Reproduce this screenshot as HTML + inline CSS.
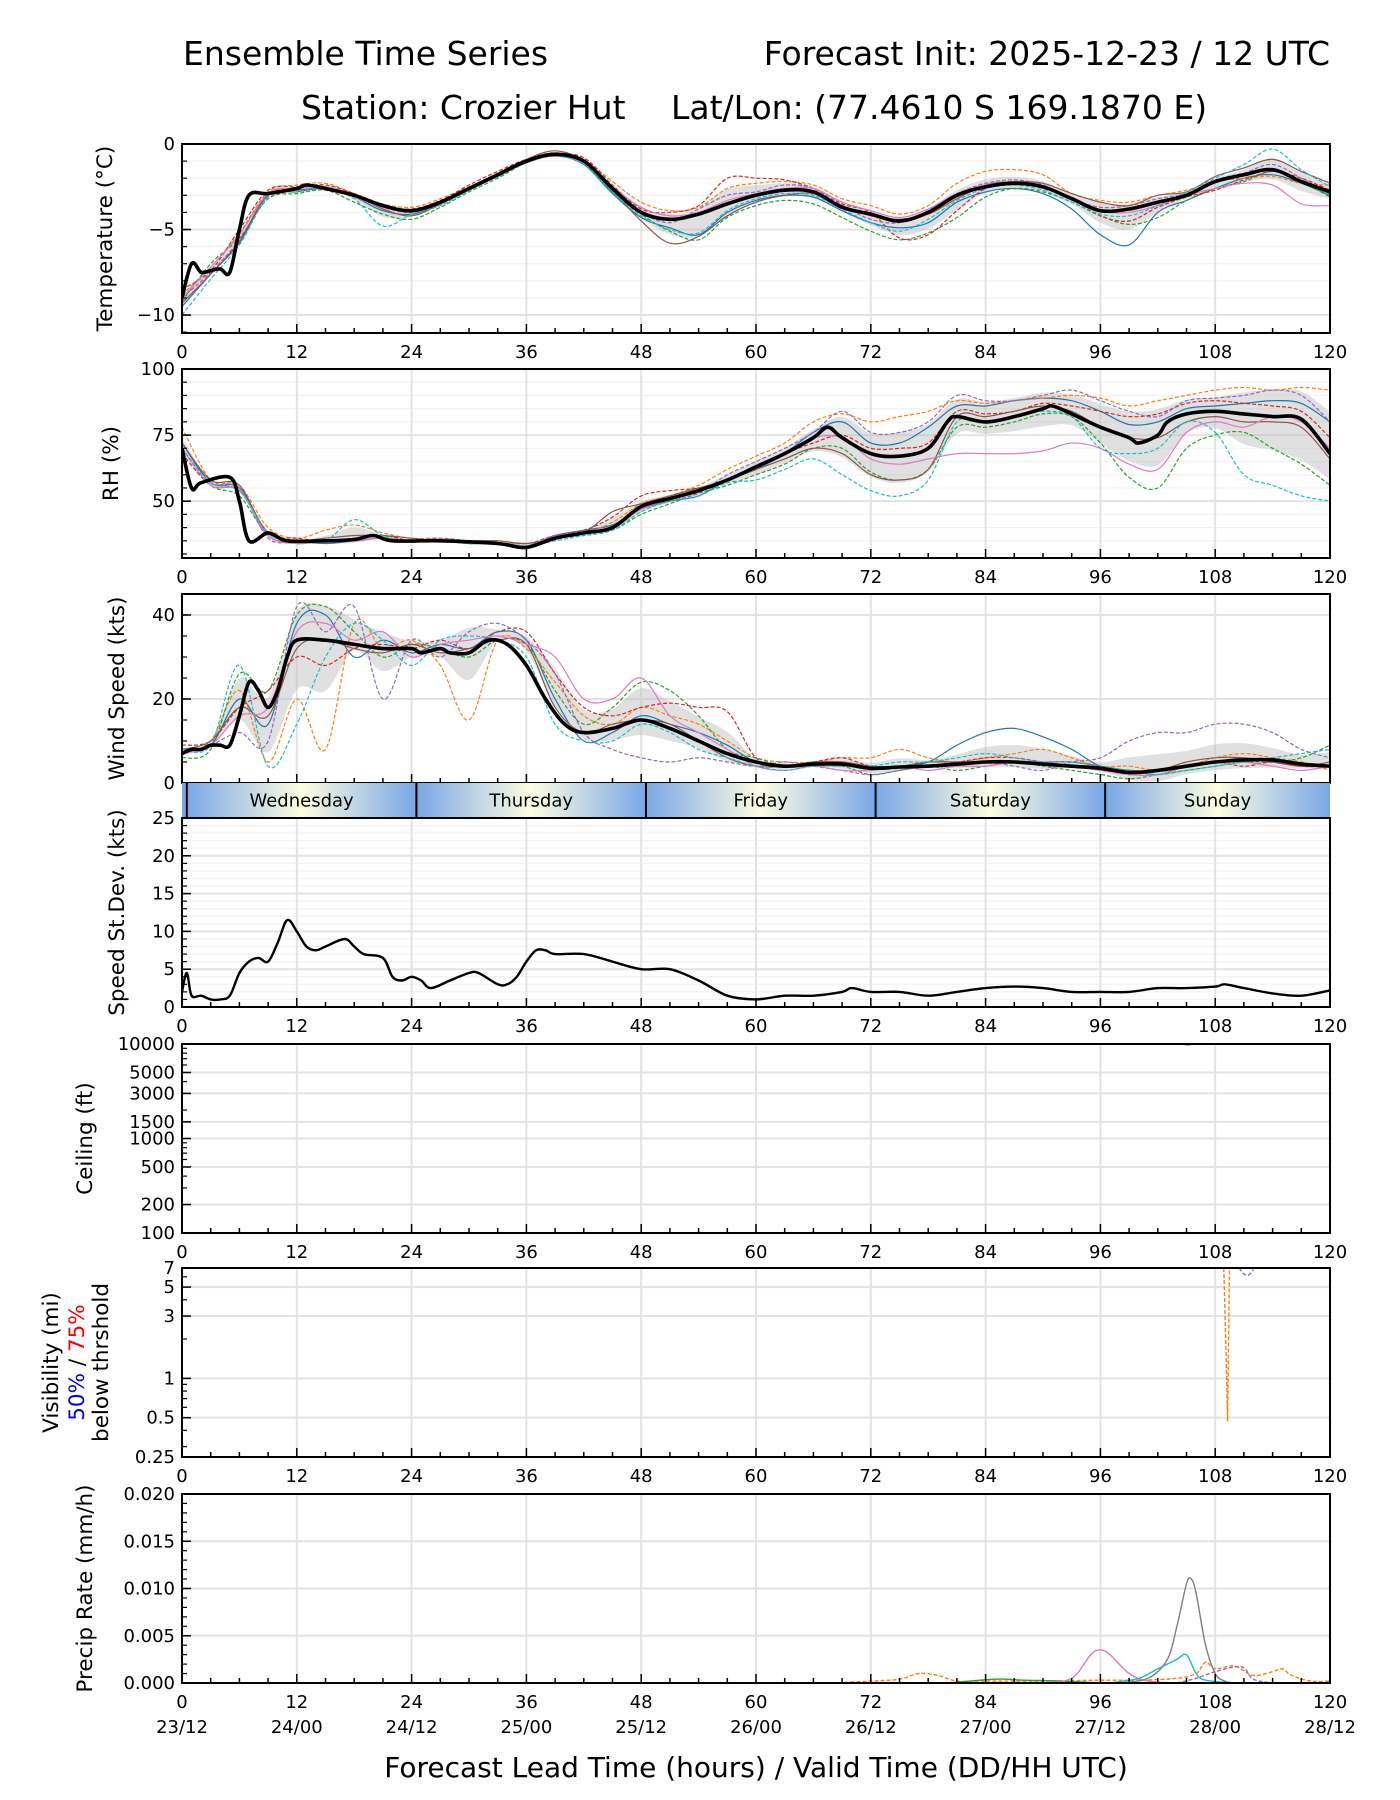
<!DOCTYPE html>
<html><head><meta charset="utf-8"><style>
html,body{margin:0;padding:0;background:#fff}
svg{display:block;font-family:"DejaVu Sans","Liberation Sans",sans-serif}
</style></head><body>
<svg id="chart" width="1400" height="1800" viewBox="0 0 1400 1800" xmlns="http://www.w3.org/2000/svg">
<defs>
<linearGradient id="dayGrad" x1="0" x2="1" y1="0" y2="0">
<stop offset="0" stop-color="#7aa6e6"/><stop offset="0.5" stop-color="#fdfde2"/><stop offset="1" stop-color="#7aa6e6"/>
</linearGradient>
</defs>
<text x="183" y="65" font-size="33">Ensemble Time Series</text>
<text x="1330" y="65" font-size="33" text-anchor="end">Forecast Init: 2025-12-23 / 12 UTC</text>
<text x="301" y="119" font-size="33">Station: Crozier Hut</text>
<text x="671" y="119" font-size="33">Lat/Lon: (77.4610 S 169.1870 E)</text>
</svg>
<script>
// ===== data =====
const T = [0,3,6,9,12,15,18,21,24,27,30,33,36,39,42,45,48,51,54,57,60,63,66,69,72,75,78,81,84,87,90,93,96,99,102,105,108,111,114,117,120];
const memberColors = ["#1f77b4","#ff7f0e","#2ca02c","#d62728","#9467bd","#8c564b","#e377c2","#17becf"];
const memberDash = [false,true,true,true,true,false,false,true];
const tempMembers = [
[-9.5,-7.6,-5.8,-3.0,-2.8,-2.6,-3.1,-3.9,-4.1,-3.5,-2.7,-1.9,-1.1,-0.7,-1.2,-2.9,-4.3,-4.9,-5.3,-4.0,-3.3,-3.0,-3.1,-3.9,-4.6,-4.9,-4.6,-3.4,-2.8,-2.6,-2.9,-3.8,-5.3,-5.9,-4.0,-3.3,-2.6,-2.0,-1.8,-2.3,-3.0],
[-8.8,-7.2,-5.2,-2.8,-2.4,-2.3,-2.9,-3.5,-3.7,-3.2,-2.5,-1.7,-0.9,-0.5,-0.9,-2.2,-3.4,-3.9,-3.7,-2.6,-2.3,-2.2,-2.4,-3.2,-3.6,-4.1,-3.6,-2.3,-1.6,-1.5,-1.8,-2.9,-3.3,-3.4,-3.0,-2.7,-2.2,-2.0,-1.9,-2.3,-2.4],
[-9.2,-7.0,-5.5,-3.2,-2.9,-2.7,-3.4,-4.1,-4.4,-3.7,-2.8,-2.0,-1.1,-0.7,-1.1,-2.8,-4.1,-5.1,-5.6,-4.3,-3.6,-3.3,-3.5,-4.3,-5.1,-5.6,-5.2,-4.3,-3.1,-2.6,-2.8,-3.4,-4.2,-4.7,-4.3,-3.3,-2.6,-2.2,-1.6,-2.2,-3.1],
[-8.5,-7.4,-5.0,-2.7,-2.5,-2.4,-2.9,-3.6,-3.8,-3.3,-2.4,-1.6,-0.9,-0.6,-0.8,-2.4,-3.8,-4.0,-3.6,-2.0,-2.0,-2.1,-2.6,-3.5,-4.0,-5.5,-5.3,-3.9,-2.6,-2.2,-2.6,-3.2,-4.2,-4.5,-3.7,-3.1,-2.7,-2.1,-1.6,-2.0,-2.7],
[-9.0,-7.5,-5.6,-3.0,-2.6,-2.5,-3.0,-3.7,-4.0,-3.5,-2.7,-1.8,-1.0,-0.6,-1.0,-2.6,-4.0,-4.6,-3.8,-3.0,-2.8,-2.4,-2.6,-3.6,-4.4,-4.6,-3.9,-2.9,-2.3,-2.1,-2.4,-3.2,-3.7,-3.6,-3.2,-2.9,-2.1,-1.7,-1.2,-2.0,-2.9],
[-9.3,-7.6,-5.7,-2.9,-2.7,-2.6,-3.0,-3.8,-4.2,-3.5,-2.6,-1.8,-0.9,-0.4,-1.0,-2.7,-4.5,-5.8,-5.4,-4.2,-3.4,-3.0,-2.9,-3.6,-4.2,-4.4,-4.1,-3.2,-2.4,-2.2,-2.3,-2.9,-3.4,-3.6,-3.0,-2.8,-1.9,-1.4,-0.9,-1.6,-2.3],
[-9.0,-7.2,-5.3,-2.9,-2.6,-2.5,-3.1,-3.7,-3.9,-3.4,-2.6,-1.8,-1.0,-0.7,-1.1,-2.5,-3.7,-4.2,-4.0,-3.3,-2.9,-2.6,-2.6,-3.4,-3.9,-4.3,-3.8,-2.9,-2.4,-2.3,-2.5,-3.1,-3.9,-4.0,-3.6,-3.0,-2.6,-2.3,-2.4,-3.5,-3.6],
[-10,-7.9,-5.9,-3.1,-2.8,-2.6,-3.2,-4.8,-4.1,-3.6,-2.7,-1.9,-1.0,-0.7,-1.2,-2.8,-4.2,-5.0,-5.2,-3.9,-3.2,-2.9,-3.0,-3.8,-4.6,-5.1,-4.4,-3.3,-2.6,-2.4,-2.7,-3.4,-4.1,-4.2,-3.6,-2.8,-2.0,-1.2,-0.3,-1.5,-2.5]];
const tempMeanT = [0,1,2,3,4,5,6,7,9,12,13,15,18,21,24,27,30,33,36,39,42,45,48,51,54,57,60,63,66,69,72,75,78,81,84,87,90,93,96,99,102,105,108,111,114,117,120];
const tempMean  = [-9,-7,-7.5,-7.4,-7.3,-7.5,-5,-3,-2.9,-2.6,-2.4,-2.6,-3,-3.6,-3.9,-3.4,-2.6,-1.8,-1,-0.6,-1,-2.6,-4,-4.4,-4.1,-3.5,-3,-2.7,-2.8,-3.7,-4.1,-4.5,-4,-3,-2.5,-2.3,-2.5,-3.2,-3.9,-3.8,-3.4,-3,-2.2,-1.8,-1.5,-2.2,-2.8];
const rhMembers = [
[72,57,55,38,35,34,35,36,35,35,34,34,33,37,39,41,47,50,52,58,62,68,76,80,72,72,78,86,86,88,89,88,84,79,80,85,86,87,88,87,80],
[78,58,56,40,36,39,41,38,36,36,35,34,34,36,38,42,49,52,56,62,67,72,80,83,80,82,84,88,87,88,89,90,89,86,88,90,92,93,92,93,92],
[70,56,52,37,34,35,35,36,35,35,34,34,33,36,37,39,45,49,53,56,60,64,70,70,61,58,62,78,78,80,83,82,72,59,55,70,75,76,70,64,56],
[68,56,54,38,36,35,36,37,35,35,35,34,33,37,39,44,52,54,55,58,63,68,72,75,70,70,72,84,83,84,87,86,84,82,83,87,88,87,86,84,74],
[70,57,55,36,35,35,35,36,35,36,35,35,34,37,38,40,47,50,53,60,65,70,76,84,76,76,80,90,88,88,90,92,88,84,82,88,89,90,92,90,80],
[72,58,56,37,35,36,37,37,36,35,35,35,34,36,38,46,49,52,55,58,62,66,70,68,60,58,62,82,82,84,86,84,78,74,74,80,82,80,80,78,66],
[70,56,54,37,34,35,35,36,35,35,35,34,33,36,38,40,47,51,54,58,63,68,74,74,66,64,66,68,68,68,69,72,70,64,62,76,80,78,82,80,70],
[70,57,54,38,35,35,43,37,35,35,34,34,33,35,37,39,46,50,52,57,58,62,66,60,54,52,58,80,80,82,84,82,70,68,70,80,76,60,56,52,50]];
const rhMeanT = [0,1,2,5,6,7,9,11,15,18,20,22,27,33,36,39,42,45,48,51,54,57,60,63,66,67.5,69,72,75,78,80,81,84,87,90,91,93,96,99,100,102,103,105,108,111,114,117,120];
const rhMean  = [70,55,57,59,50,35,38,35,35,35.5,37,35,35,34,32.5,36,38,40,48,51,54,58,63,68,74,78,74,68,67,70,80,82,80,82,85,86,83,78,74,72,75,80,83,84,83,82,81,68];
const windMembers = [
[8,9,20,14,38,40,30,34,31,33,32,36,34,20,10,12,16,14,12,9,5,4,5,5,4,4,5,9,12,13,11,8,4,3,2,4,5,6,5,4,4],
[7,10,22,5,20,8,38,32,34,28,15,34,32,24,16,14,18,16,14,10,6,5,5,6,6,8,6,5,6,7,8,6,4,4,3,4,6,7,6,5,3],
[6,8,26,22,40,42,36,30,33,32,30,34,33,22,14,18,24,22,16,8,6,4,4,4,2,3,4,3,4,5,4,3,2,1,2,3,4,5,5,6,9],
[9,10,18,22,30,28,32,33,32,34,32,36,36,26,18,16,18,19,18,17,6,4,5,6,4,4,5,5,6,6,5,4,4,2,3,4,5,4,5,4,4],
[7,9,12,10,42,36,42,20,34,30,36,38,34,26,12,8,6,5,6,5,4,5,4,3,2,3,4,4,5,4,3,5,6,10,12,12,14,14,12,8,6],
[8,10,18,16,32,34,32,31,33,31,32,34,33,18,12,14,15,14,10,6,4,4,5,5,4,4,5,5,5,5,5,5,4,3,3,5,6,6,5,4,5],
[7,9,16,18,36,38,34,36,30,33,34,35,33,30,20,20,25,16,12,8,4,3,4,3,3,4,3,4,4,5,5,4,3,2,2,4,5,5,4,3,4],
[8,9,28,4,14,30,38,34,28,34,35,34,30,14,10,10,14,12,8,6,4,3,4,4,4,5,5,6,7,6,5,5,4,3,2,3,4,5,6,7,8]];
const windMeanT = [0,1,2,3,4,5,6,7,8,9,10,11,12,15,18,21,24,25,27,28,30,32,34,36,38,40,42,45,48,51,54,57,60,63,66,69,72,75,78,81,84,87,90,93,96,99,102,105,108,111,114,117,120];
const windMean  = [7,8,8,9,9,9,16,24,22,18,22,30,34,34,33,32,32,31,32,31,31,34,33,28,20,14,12,13,15,13,10,7,5,4,4.5,4.5,3.5,3.8,4,4.5,5,5,4.5,4,3.5,2.5,3,4,5,5.5,5.5,4.5,4];
const sdT = [0,0.5,1,2,3,4,5,6,7,8,9,10,11,12,13,14,15,17,18,19,21,22,23,24,25,26,28,30,31,33,34,35,36,37,38,39,42,45,48,51,54,57,60,63,66,69,70,72,75,78,81,84,87,90,93,96,99,102,105,108,109,111,114,117,120];
const sdVal = [2,4.5,1.5,1.5,1,1,1.5,4.5,6,6.5,6,8.5,11.5,10,8,7.5,8,9,8,7,6.5,4,3.5,4,3.5,2.5,3.5,4.5,4.5,3,3,4,6,7.5,7.5,7,7,6,5,5,3.5,1.5,1,1.5,1.5,2,2.5,2,2,1.5,2,2.5,2.7,2.5,2,2,2,2.5,2.5,2.7,3,2.5,1.8,1.5,2.2];
const precipPinkT = [90,93,95,96,97,99,101,104];
const precipPink  = [0,0.0005,0.003,0.0035,0.003,0.001,0.0002,0];
const precipGrayT = [98,101,103,104,105,105.5,106,107,108,109,110];
const precipGray  = [0,0.0005,0.0025,0.006,0.0105,0.011,0.0095,0.004,0.001,0.0002,0];
const precipCyanT = [97,100,102,104,105,106,107,110];
const precipCyan  = [0,0.0005,0.0015,0.0025,0.003,0.001,0.0003,0];
const precipOrangeT = [68,72,75,77,79,81,84,90,96,100,104,106,107,108,110,112,114,115,116,118,120];
const precipOrange  = [0,0.0002,0.0004,0.001,0.0008,0.0002,0.0002,0.0002,0.0003,0.0003,0.0005,0.001,0.0022,0.0015,0.0018,0.0008,0.0012,0.0015,0.0008,0.0002,0.0002];
const precipGreenT = [80,85,88,92,96];
const precipGreen  = [0,0.0004,0.0003,0.0002,0];
const precipPurpleT = [104,106,108,110,111,112,114];
const precipPurple  = [0,0.0005,0.0012,0.0017,0.0016,0.0004,0];
const visOrangeT = [108.9,109.1,109.3,109.5];
const visOrange  = [7,2,0.47,7];
const visPurpleT = [110.5,111,111.5,112];
const visPurple  = [7,6.3,6.2,6.8];
const ceilGrayT = [104.8,105.4];
const ceilGray  = [9800,9800];
const xTicks = [0,12,24,36,48,60,72,84,96,108,120];
const dateLabels = ["23/12","24/00","24/12","25/00","25/12","26/00","26/12","27/00","27/12","28/00","28/12"];
const dayNames = ["Wednesday","Thursday","Friday","Saturday","Sunday"];
const dayStarts = [0.5,24.5,48.5,72.5,96.5,120];

// ===== drawing =====
const svg = document.getElementById('chart');
const NS = 'http://www.w3.org/2000/svg';
const L = 182, R = 1330, H = 189;
function mk(tag, attrs, parent){ const e=document.createElementNS(NS,tag); for(const k in attrs) e.setAttribute(k,attrs[k]); (parent||svg).appendChild(e); return e; }
function xs(h){ return L + h/120*(R-L); }
function linScale(min,max,top){ return v => top + H - (v-min)/(max-min)*H; }
function logScale(min,max,top){ return v => top + H - (Math.log(v)-Math.log(min))/(Math.log(max)-Math.log(min))*H; }
function pathD(ts, vs, ys){
  const p = ts.map((t,i)=>[xs(t), ys(vs[i])]);
  let d = 'M'+p[0][0].toFixed(1)+','+p[0][1].toFixed(1);
  for(let i=0;i<p.length-1;i++){
    const p0=p[Math.max(0,i-1)], p1=p[i], p2=p[i+1], p3=p[Math.min(p.length-1,i+2)];
    const c1x=p1[0]+(p2[0]-p0[0])/6, c1y=p1[1]+(p2[1]-p0[1])/6;
    const c2x=p2[0]-(p3[0]-p1[0])/6, c2y=p2[1]-(p3[1]-p1[1])/6;
    d += ` C${c1x.toFixed(1)},${c1y.toFixed(1)} ${c2x.toFixed(1)},${c2y.toFixed(1)} ${p2[0].toFixed(1)},${p2[1].toFixed(1)}`;
  }
  return d;
}
function linD(ts, vs, ys){ return ts.map((t,i)=>(i?'L':'M')+xs(t).toFixed(1)+','+ys(vs[i]).toFixed(1)).join(' '); }

function panel(name, top, ys, majors, minors, gridMinor){
  const g = mk('g',{});
  
  
  if(gridMinor) minors.forEach(v=>{ mk('line',{x1:L,x2:R,y1:ys(v),y2:ys(v),stroke:'#f2f2f2','stroke-width':1.2},g); });
  majors.forEach(v=>{ mk('line',{x1:L,x2:R,y1:ys(v),y2:ys(v),stroke:'#e3e3e3','stroke-width':2},g); });
  xTicks.forEach(h=>{ mk('line',{x1:xs(h),x2:xs(h),y1:top,y2:top+H,stroke:'#e3e3e3','stroke-width':2},g); });
  return g;
}
function frame(name, top, ys, majors, labels, minors, noX){
  const g = mk('g',{});
  
  
  for(let h=0; h<=120; h+=3){
    const major = h%12===0;
    mk('line',{x1:xs(h),x2:xs(h),y1:top+H,y2:top+H-(major?9:5),stroke:'#000','stroke-width':1.5},g);
  }
  minors.forEach(v=>{ mk('line',{x1:L,x2:L+5,y1:ys(v),y2:ys(v),stroke:'#000','stroke-width':1.2},g); });
  majors.forEach((v,i)=>{
    mk('line',{x1:L,x2:L+9,y1:ys(v),y2:ys(v),stroke:'#000','stroke-width':1.5},g);
    const t = mk('text',{x:L-7,y:ys(v)+6,'font-size':18,'text-anchor':'end'},g);
    t.textContent = labels[i];
  });
  if(!noX) xTicks.forEach(h=>{
    const t = mk('text',{x:xs(h),y:top+H+25,'font-size':18,'text-anchor':'middle'},g);
    t.textContent = h;
  });
  mk('rect',{x:L,y:top,width:R-L,height:H,fill:'none',stroke:'#000','stroke-width':2},g);
}
function ytitle(text, top, x){
  const t = mk('text',{x:x,y:top+H/2,'font-size':21.5,'text-anchor':'middle',transform:`rotate(-90 ${x} ${top+H/2})`});
  t.textContent = text;
  return t;
}
function clipFor(id, top){
  const cp = mk('clipPath',{id:id});
  mk('rect',{x:L,y:top,width:R-L,height:H},cp);
  return 'url(#'+id+')';
}
function range(a,b,s){ const r=[]; for(let v=a; v<=b+1e-9; v+=s) r.push(+v.toFixed(6)); return r; }
function ensemble(name, top, ys, members, meanT, meanV){
  const g = mk('g',{'clip-path':clipFor(name+'-clip',top)});
  
  
  const mu = T.map((_,i)=>members.reduce((s,m)=>s+m[i],0)/members.length);
  const sd = T.map((_,i)=>Math.sqrt(members.reduce((s,m)=>s+(m[i]-mu[i])**2,0)/members.length));
  const upP = pathD(T, mu.map((m,i)=>m+sd[i]), ys);
  const rT = T.slice().reverse(), rLo = mu.map((m,i)=>m-sd[i]).reverse();
  const dnP = pathD(rT, rLo, ys).replace(/^M/,'L');
  const band = mk('path',{d:upP+' '+dnP+' Z',fill:'#bbbbbb','fill-opacity':0.45},g);
  
  
  members.forEach((m,k)=>{
    const p = mk('path',{d:pathD(T,m,ys),fill:'none',stroke:memberColors[k],'stroke-width':1.2},g);
    if(memberDash[k]) p.setAttribute('stroke-dasharray','4,2');
    
    
  });
  const mp = mk('path',{d:pathD(meanT,meanV,ys),fill:'none',stroke:'#000','stroke-width':3.6,'stroke-linejoin':'round'},g);
  
  
}

const tops = {temp:144, rh:369, wind:594, sd:818, ceil:1044, vis:1268, pr:1494};

// Temperature
let ys = linScale(-11.05,0,tops.temp);
panel('temperature',tops.temp,ys,[0,-5,-10],range(-11,0,1),true);
ensemble('temperature',tops.temp,ys,tempMembers,tempMeanT,tempMean);
frame('temperature',tops.temp,ys,[0,-5,-10],['0','\u22125','\u221210'],range(-11,0,1));
let tt = ytitle('Temperature (\u00b0C)',tops.temp,112);



// RH
ys = linScale(28.5,100,tops.rh);
panel('rh',tops.rh,ys,[50,75,100],range(30,100,5),true);
ensemble('rh',tops.rh,ys,rhMembers,rhMeanT,rhMean);
frame('rh',tops.rh,ys,[50,75,100],['50','75','100'],range(30,100,5));
tt = ytitle('RH (%)',tops.rh,118);



// Wind
ys = linScale(0,45,tops.wind);
panel('wind',tops.wind,ys,[0,20,40],range(0,45,5),false);
ensemble('wind',tops.wind,ys,windMembers,windMeanT,windMean);
frame('wind',tops.wind,ys,[0,20,40],['0','20','40'],range(0,45,5),true);
tt = ytitle('Wind Speed (kts)',tops.wind,124);



// Day strip
const stripTop = tops.wind+H, stripH = tops.sd-stripTop;
mk('rect',{x:L,y:stripTop,width:xs(dayStarts[0])-L,height:stripH,fill:'#7aa6e6'});
dayNames.forEach((d,i)=>{
  const x0 = xs(dayStarts[i]), x1 = xs(Math.min(dayStarts[i+1], 120));
  const g = mk('g',{});
  
  
  mk('rect',{x:x0,y:stripTop,width:x1-x0,height:stripH,fill:'url(#dayGrad)'},g);
  mk('line',{x1:x0,x2:x0,y1:stripTop,y2:stripTop+stripH,stroke:'#000','stroke-width':2},g);
  const t = mk('text',{x:(x0+x1)/2,y:stripTop+stripH/2+6,'font-size':18,'text-anchor':'middle'},g);
  t.textContent = d;
});

// Std dev
ys = linScale(0,25,tops.sd);
panel('speed-stdev',tops.sd,ys,[0,5,10,15,20,25],range(0,25,1),true);
let sp = mk('path',{d:pathD(sdT,sdVal,ys),fill:'none',stroke:'#000','stroke-width':2.4,'stroke-linejoin':'round'});


frame('speed-stdev',tops.sd,ys,[0,5,10,15,20,25],['0','5','10','15','20','25'],range(0,25,1));
tt = ytitle('Speed St.Dev. (kts)',tops.sd,124);



// Ceiling
ys = logScale(100,10000,tops.ceil);
const ceilTicks=[100,200,500,1000,1500,3000,5000,10000];
panel('ceiling',tops.ceil,ys,ceilTicks,[],false);
sp = mk('path',{d:linD(ceilGrayT,ceilGray,ys),fill:'none',stroke:'#7f7f7f','stroke-width':1.5});


frame('ceiling',tops.ceil,ys,ceilTicks,ceilTicks.map(String),[300,400,600,700,800,900,2000,4000,6000,7000,8000,9000]);
tt = ytitle('Ceiling (ft)',tops.ceil,92);



// Visibility
ys = logScale(0.25,7,tops.vis);
const visTicks=[0.25,0.5,1,3,5,7];
panel('visibility',tops.vis,ys,visTicks,[],false);
const visG = mk('g',{'clip-path':clipFor('vis-clip',tops.vis)});
sp = mk('path',{d:linD(visOrangeT,visOrange,ys),fill:'none',stroke:'#ff7f0e','stroke-width':1.4,'stroke-dasharray':'4,2'},visG);


sp = mk('path',{d:pathD(visPurpleT,visPurple,ys),fill:'none',stroke:'#9467bd','stroke-width':1.4,'stroke-dasharray':'4,2'},visG);


frame('visibility',tops.vis,ys,visTicks,['0.25','0.5','1','3','5','7'],[0.3,0.4,0.6,0.7,0.8,0.9,2,4,6]);
const vt = mk('text',{'font-size':21.5,'text-anchor':'middle',transform:`translate(0 ${tops.vis+H/2}) rotate(-90)`});


vt.innerHTML = `<tspan x="0" y="58">Visibility (mi)</tspan><tspan x="0" y="84"><tspan fill="#0000ff">50%</tspan> / <tspan fill="#ff0000">75%</tspan></tspan><tspan x="0" y="108">below thrshold</tspan>`;

// Precip
ys = linScale(0,0.02,tops.pr);
const prTicks=[0,0.005,0.01,0.015,0.02];
panel('precip',tops.pr,ys,prTicks,[],false);
const prG = mk('g',{'clip-path':clipFor('pr-clip',tops.pr)});
[[precipOrangeT,precipOrange,'#ff7f0e',true,'orange'],[precipGreenT,precipGreen,'#2ca02c',false,'green'],[precipPinkT,precipPink,'#e377c2',false,'pink'],[precipCyanT,precipCyan,'#17becf',false,'cyan'],[precipPurpleT,precipPurple,'#9467bd',true,'purple'],[precipGrayT,precipGray,'#7f7f7f',false,'gray']].forEach(s=>{
  const p = mk('path',{d:pathD(s[0],s[1],ys),fill:'none',stroke:s[2],'stroke-width':1.4},prG);
  if(s[3]) p.setAttribute('stroke-dasharray','4,2');
  
  
});
frame('precip',tops.pr,ys,prTicks,['0.000','0.005','0.010','0.015','0.020'],range(0,0.02,0.001));
tt = ytitle('Precip Rate (mm/h)',tops.pr,92);


xTicks.forEach((h,i)=>{
  const t = mk('text',{x:xs(h),y:tops.pr+H+50,'font-size':18,'text-anchor':'middle'});
  t.textContent = dateLabels[i];
  
  
});
tt = mk('text',{x:(L+R)/2,y:1777,'font-size':28,'text-anchor':'middle'});
tt.textContent = 'Forecast Lead Time (hours) / Valid Time (DD/HH UTC)';


</script>
</body></html>
